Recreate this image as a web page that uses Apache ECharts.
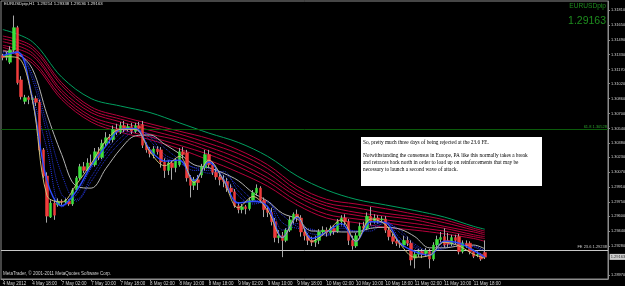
<!DOCTYPE html>
<html><head><meta charset="utf-8">
<script src="https://cdn.jsdelivr.net/npm/echarts@6/dist/echarts.min.js"></script>
<style>html,body{margin:0;padding:0;background:#000;}#c{width:625px;height:286px;}</style>
</head><body><div id="c"></div>
<script>
// ---- time axis ----
const barCount = 165;
const tickIdx = [0,8,16,24,32,40,48,56,64,72,80,88,96,104,112,120,128];
const tickLabels = ['4 May 2012','4 May 18:00','7 May 02:00','7 May 10:00','7 May 18:00','8 May 02:00','8 May 10:00','8 May 18:00','9 May 02:00','9 May 10:00','9 May 18:00','10 May 02:00','10 May 10:00','10 May 18:00','11 May 02:00','11 May 10:00','11 May 18:00'];
// ---- price axis ----
const yTicks = [1.28970,1.29280,1.29440,1.29600,1.29750,1.29910,1.30070,1.30230,1.30380,1.30540,1.30700,1.30860,1.31020,1.31170,1.31330,1.31490,1.31650,1.31810];
const fib618 = 1.30528, fe236 = 1.29238, bid = 1.29163;
// ---- candles (H1) ----
const opens = [1.3132,1.3130,1.3125,1.3138,1.3162,1.3106,1.3083,1.3087,1.3085,1.3086,
1.3082,1.3031,1.3003,1.2959,1.2974,1.2972,1.2976,1.2975,1.2976,1.2973,
1.2988,1.3001,1.3013,1.3009,1.3017,1.3015,1.3029,1.3023,1.3038,1.3044,
1.3042,1.3053,1.3050,1.3057,1.3053,1.3056,1.3051,1.3057,1.3058,1.3036,
1.3031,1.3026,1.3032,1.3031,1.3018,1.3009,1.3017,1.3012,1.3015,1.3029,
1.3028,1.3001,1.2993,1.2999,1.3004,1.3012,1.3026,1.3015,1.3007,1.3002,
1.2999,1.2997,1.2990,1.2986,1.2971,1.2967,1.2970,1.2968,1.2977,1.2985,
1.2990,1.2977,1.2967,1.2964,1.2954,1.2937,1.2939,1.2934,1.2945,1.2956,
1.2962,1.2958,1.2943,1.2939,1.2934,1.2932,1.2934,1.2943,1.2945,1.2942,
1.2947,1.2944,1.2954,1.2958,1.2954,1.2934,1.2928,1.2939,1.2949,1.2947,
1.2960,1.2954,1.2958,1.2956,1.2957,1.2945,1.2938,1.2933,1.2931,1.2929,
1.2934,1.2931,1.2915,1.2919,1.2922,1.2920,1.2922,1.2914,1.2929,1.2935,
1.2938,1.2934,1.2930,1.2937,1.2938,1.2922,1.2931,1.2931,1.2922,1.2918,
1.2919,1.2921];
const closes = [1.3130,1.3133,1.3138,1.3162,1.3103,1.3088,1.3087,1.3085,1.3086,1.3082,
1.3031,1.3003,1.2960,1.2974,1.2961,1.2976,1.2975,1.2977,1.2973,1.2988,
1.3001,1.3013,1.3009,1.3017,1.3015,1.3029,1.3023,1.3038,1.3044,1.3042,
1.3053,1.3050,1.3057,1.3053,1.3056,1.3051,1.3057,1.3054,1.3036,1.3031,
1.3027,1.3032,1.3029,1.3018,1.3009,1.3017,1.3012,1.3020,1.3029,1.3026,
1.3001,1.2993,1.2999,1.2996,1.3013,1.3026,1.3015,1.3007,1.3002,1.2999,
1.2997,1.2990,1.2986,1.2971,1.2967,1.2970,1.2968,1.2977,1.2985,1.2990,
1.2977,1.2967,1.2964,1.2954,1.2937,1.2939,1.2934,1.2945,1.2956,1.2962,
1.2958,1.2943,1.2939,1.2934,1.2932,1.2934,1.2943,1.2945,1.2942,1.2947,
1.2944,1.2954,1.2958,1.2954,1.2934,1.2928,1.2939,1.2949,1.2947,1.2960,
1.2954,1.2958,1.2956,1.2957,1.2945,1.2938,1.2933,1.2931,1.2930,1.2934,
1.2931,1.2913,1.2919,1.2922,1.2919,1.2923,1.2914,1.2929,1.2935,1.2937,
1.2929,1.2930,1.2937,1.2934,1.2922,1.2931,1.2929,1.2922,1.2917,1.2919,
1.2914,1.2916];
const lows = [1.3127,1.3127,1.3123,1.3136,1.3101,1.3085,1.3080,1.3080,1.3081,1.3078,
1.3029,1.3001,1.2953,1.2958,1.2956,1.2970,1.2972,1.2973,1.2971,1.2971,
1.2986,1.2999,1.3006,1.3007,1.3012,1.3013,1.3020,1.3021,1.3035,1.3038,
1.3039,1.3047,1.3048,1.3050,1.3051,1.3048,1.3049,1.3051,1.3033,1.3028,
1.3023,1.3022,1.3026,1.3012,1.3001,1.3004,1.2999,1.3007,1.3013,1.3022,
1.2997,1.2980,1.2988,1.2988,1.3001,1.3009,1.3012,1.3004,1.2999,1.2993,
1.2991,1.2986,1.2982,1.2969,1.2963,1.2963,1.2962,1.2966,1.2975,1.2982,
1.2974,1.2959,1.2959,1.2950,1.2932,1.2931,1.2916,1.2932,1.2943,1.2952,
1.2954,1.2938,1.2934,1.2929,1.2928,1.2927,1.2930,1.2939,1.2938,1.2939,
1.2940,1.2942,1.2950,1.2949,1.2929,1.2924,1.2926,1.2937,1.2943,1.2945,
1.2950,1.2952,1.2952,1.2953,1.2942,1.2934,1.2930,1.2928,1.2926,1.2927,
1.2928,1.2907,1.2904,1.2916,1.2915,1.2917,1.2904,1.2912,1.2926,1.2932,
1.2926,1.2927,1.2928,1.2930,1.2919,1.2920,1.2926,1.2919,1.2915,1.2916,
1.2912,1.2914];
const highs = [1.3134,1.3136,1.3142,1.3175,1.3164,1.3110,1.3090,1.3089,1.3088,1.3089,
1.3085,1.3033,1.3007,1.2977,1.2979,1.2979,1.2978,1.2979,1.2978,1.2990,
1.3003,1.3016,1.3018,1.3022,1.3026,1.3033,1.3034,1.3042,1.3050,1.3048,
1.3057,1.3059,1.3061,1.3062,1.3059,1.3060,1.3060,1.3061,1.3062,1.3039,
1.3034,1.3035,1.3035,1.3034,1.3022,1.3020,1.3020,1.3022,1.3033,1.3034,
1.3031,1.3004,1.3002,1.3004,1.3016,1.3031,1.3031,1.3018,1.3012,1.3006,
1.3004,1.3001,1.2994,1.2989,1.2975,1.2973,1.2972,1.2980,1.2988,1.2994,
1.2992,1.2980,1.2971,1.2969,1.2958,1.2945,1.2943,1.2947,1.2960,1.2964,
1.2967,1.2961,1.2947,1.2942,1.2938,1.2939,1.2946,1.2949,1.2948,1.2950,
1.2950,1.2957,1.2961,1.2962,1.2957,1.2939,1.2942,1.2953,1.2954,1.2964,
1.2970,1.2962,1.2961,1.2960,1.2960,1.2948,1.2941,1.2937,1.2934,1.2939,
1.2938,1.2934,1.2924,1.2925,1.2925,1.2926,1.2925,1.2932,1.2939,1.2943,
1.2947,1.2942,1.2940,1.2940,1.2941,1.2934,1.2934,1.2933,1.2924,1.2922,
1.2920,1.2934];
// ---- moving averages (read every 4 bars / every 8 bars) ----
const fastIdx = [0,4,8,12,16,20,24,28,32,36,40,44,48,52,56,60,64,68,72,76,80,84,88,92,96,100,104,108,112,116,120,124,128,131];
const yellowMA = [1.3131,1.3130,1.3085,1.2982,1.2975,1.2994,1.3016,1.3041,1.3053,1.3053,1.3029,1.3014,1.3024,1.2996,1.3020,1.2998,1.2969,1.2981,1.2966,1.2937,1.2960,1.2933,1.2943,1.2956,1.2933,1.2957,1.2951,1.2930,1.2916,1.2918,1.2932,1.2928,1.2919,1.2915];
const blue1 = [1.3132,1.3136,1.3086,1.2998,1.2971,1.2987,1.3014,1.3035,1.3053,1.3054,1.3031,1.3019,1.3020,1.2998,1.3018,1.2999,1.2974,1.2976,1.2970,1.2937,1.2959,1.2936,1.2943,1.2952,1.2933,1.2954,1.2953,1.2931,1.2922,1.2918,1.2933,1.2931,1.2923,1.2916];
const blue2 = [1.3133,1.3136,1.3090,1.3032,1.2970,1.2983,1.3011,1.3030,1.3049,1.3054,1.3041,1.3023,1.3017,1.3009,1.3009,1.3004,1.2982,1.2973,1.2976,1.2945,1.2952,1.2941,1.2940,1.2949,1.2943,1.2949,1.2954,1.2936,1.2926,1.2919,1.2929,1.2930,1.2924,1.2917];
const blue3 = [1.3135,1.3135,1.3107,1.3048,1.2983,1.2978,1.3002,1.3026,1.3044,1.3053,1.3045,1.3026,1.3019,1.3012,1.3006,1.3008,1.2987,1.2975,1.2975,1.2953,1.2947,1.2946,1.2939,1.2947,1.2944,1.2944,1.2954,1.2942,1.2928,1.2921,1.2927,1.2932,1.2927,1.2922];
const blue4 = [1.3136,1.3134,1.3112,1.3058,1.3005,1.2976,1.2997,1.3021,1.3039,1.3051,1.3047,1.3033,1.3021,1.3012,1.3011,1.3006,1.2992,1.2978,1.2974,1.2961,1.2949,1.2945,1.2941,1.2944,1.2944,1.2947,1.2952,1.2945,1.2930,1.2923,1.2925,1.2930,1.2928,1.2923];
const grayMA = [1.3137,1.3134,1.3118,1.3069,1.3026,1.2992,1.2990,1.3011,1.3032,1.3046,1.3047,1.3037,1.3027,1.3015,1.3012,1.3006,1.2998,1.2985,1.2976,1.2963,1.2957,1.2944,1.2944,1.2943,1.2943,1.2947,1.2948,1.2946,1.2938,1.2926,1.2926,1.2928,1.2929,1.2925];
const slowIdx = [0,8,16,24,32,40,48,56,64,72,80,88,96,104,112,120,128,131];
const red1 = [1.3153,1.3142,1.3103,1.3077,1.3067,1.3059,1.3051,1.3043,1.3031,1.3015,1.2992,1.2978,1.2973,1.2968,1.2962,1.2956,1.2947,1.2944];
const red2 = [1.3150,1.3139,1.3100,1.3074,1.3064,1.3056,1.3048,1.3038,1.3027,1.3011,1.2988,1.2974,1.2969,1.2963,1.2959,1.2953,1.2945,1.2942];
const red3 = [1.3147,1.3135,1.3095,1.3071,1.3061,1.3052,1.3044,1.3034,1.3022,1.3006,1.2984,1.2971,1.2964,1.2960,1.2956,1.2949,1.2943,1.2940];
const red4 = [1.3143,1.3132,1.3092,1.3067,1.3057,1.3048,1.3041,1.3030,1.3017,1.3001,1.2981,1.2967,1.2961,1.2956,1.2952,1.2947,1.2940,1.2938];
const red5 = [1.3141,1.3127,1.3088,1.3064,1.3053,1.3045,1.3036,1.3026,1.3013,1.2997,1.2976,1.2962,1.2957,1.2953,1.2948,1.2944,1.2938,1.2936];
const red6 = [1.3138,1.3124,1.3085,1.3061,1.3050,1.3042,1.3032,1.3020,1.3007,1.2992,1.2972,1.2958,1.2953,1.2948,1.2945,1.2941,1.2936,1.2933];
const greenMA = [1.3160,1.3147,1.3109,1.3086,1.3078,1.3071,1.3060,1.3049,1.3039,1.3024,1.3003,1.2988,1.2978,1.2972,1.2966,1.2959,1.2949,1.2946];
// ---- texts ----
const headerText = 'EURUSDpip,H1  1.29214 1.29338 1.29136 1.29163';
const noteLines = ['So, pretty much three days of being rejected at the 23.6 FE.',
 'Notwithstanding the consensus in Europe, PA like this normally takes a break',
 'and retraces back north in order to load up on reinforcements that may be',
 'necessary to launch a second wave of attack.'];

const categories = Array.from({length: barCount}, (_, i) => String(i));
const wickData = opens.map((o, i) => [o, closes[i], lows[i], highs[i]]);
const bodyData = opens.map((o, i) => [o, closes[i], Math.min(o, closes[i]), Math.max(o, closes[i])]);
const pair = (idx, arr) => idx.map((x, k) => [x, arr[k]]);
const maLine = (idx, arr, color, width, type, z) => ({
  type: 'line', data: pair(idx, arr), symbol: 'none', smooth: 0.35, silent: true, z: z,
  lineStyle: {color: color, width: width, type: type}
});
const F = 'Liberation Sans';
const chart = echarts.init(document.getElementById('c'), null, {renderer: 'canvas'});
const levelSeries = {
  type: 'line', data: [], silent: true, z: 7,
  markLine: {
    symbol: 'none', silent: true, animation: false, precision: 5,
    data: [
      {yAxis: fib618, lineStyle: {color: '#0b5a0b', width: 1, type: 'solid'},
       label: {formatter: '61.8 ' + fib618.toFixed(5), position: 'insideEndTop', color: '#2ea02e', fontSize: 4, fontFamily: F, distance: 1}},
      {yAxis: fe236, lineStyle: {color: '#c8c8c8', width: 1, type: 'solid'},
       label: {formatter: 'FE 23.6 ' + fe236.toFixed(5), position: 'insideEndTop', color: '#c8c8c8', fontSize: 4, fontFamily: F, distance: 1}}
    ]
  }
};
const bidSeries = {
  type: 'scatter', data: [[barCount - 1, bid]], symbolSize: 1, clip: false, silent: true, z: 40,
  itemStyle: {color: 'rgba(0,0,0,0)'},
  label: {show: true, position: 'right', distance: 3, formatter: bid.toFixed(5), color: '#000',
    backgroundColor: '#ffffff', fontSize: 4, fontFamily: F, padding: [1, 1]}
};
const series = [
  maLine(slowIdx, red1, '#b8003c', 1, 'solid', 2),
  maLine(slowIdx, red2, '#b8003c', 1, 'solid', 2),
  maLine(slowIdx, red3, '#b8003c', 1, 'solid', 2),
  maLine(slowIdx, red4, '#b8003c', 1, 'solid', 2),
  maLine(slowIdx, red5, '#b8003c', 1, 'solid', 2),
  maLine(slowIdx, red6, '#b8003c', 1, 'solid', 2),
  maLine(slowIdx, greenMA, '#00a060', 1, 'solid', 2),
  maLine(fastIdx, blue4, '#2434d8', 1, 'dotted', 3),
  maLine(fastIdx, blue3, '#2434d8', 1, 'dotted', 3),
  maLine(fastIdx, blue2, '#2838e0', 1, 'dotted', 3),
  maLine(fastIdx, grayMA, '#b4b4b4', 1, 'solid', 3),
  {
    type: 'candlestick', data: wickData, barWidth: 1, z: 4, silent: true,
    itemStyle: {color: '#a8a8a8', color0: '#a8a8a8', borderColor: '#a8a8a8', borderColor0: '#a8a8a8', borderWidth: 1}
  },
  {
    type: 'candlestick', data: bodyData, barWidth: 3, z: 5, silent: true,
    itemStyle: {color: '#3ce03c', color0: '#f03c3c', borderColor: '#3ce03c', borderColor0: '#f03c3c', borderWidth: 0.5}
  },
  maLine(fastIdx, blue1, '#2c4cff', 1.4, 'solid', 6),
  maLine(fastIdx, yellowMA, '#cdbd78', 1, 'solid', 6),
  levelSeries,
  bidSeries
];
chart.setOption({
  backgroundColor: '#000',
  animation: false,
  grid: {left: 1, right: 17, top: 1, bottom: 7, outerBoundsMode: 'none', containLabel: false, show: true, borderColor: '#8c8c8c', borderWidth: 1, backgroundColor: 'transparent'},
  xAxis: {
    type: 'category', data: categories, boundaryGap: true,
    axisLine: {show: true, lineStyle: {color: '#8c8c8c'}},
    axisTick: {show: true, alignWithLabel: true, length: 2, interval: (i) => tickIdx.indexOf(i) >= 0, lineStyle: {color: '#8c8c8c'}},
    axisLabel: {interval: (i) => tickIdx.indexOf(i) >= 0, formatter: (v) => tickLabels[tickIdx.indexOf(Number(v))] || '',
      align: 'left', color: '#d4d4d4', fontSize: 4.5, fontFamily: F, margin: 2},
    splitLine: {show: false}
  },
  yAxis: {
    type: 'value', position: 'right', min: 1.28926, max: 1.31906,
    axisLine: {show: true, lineStyle: {color: '#8c8c8c'}},
    axisTick: {show: true, length: 2, customValues: yTicks, lineStyle: {color: '#8c8c8c'}},
    axisLabel: {customValues: yTicks, formatter: (v) => v.toFixed(5), color: '#d4d4d4', fontSize: 3.9, fontFamily: F, margin: 3},
    splitLine: {show: false}
  },
  series: series,
  graphic: [
    {type: 'text', left: 4, top: 2, z: 20, style: {text: headerText, fill: '#e0e0e0', fontSize: 4.3, fontFamily: F}},
    {type: 'text', right: 19, top: 3, z: 20, style: {text: 'EURUSDpip', fill: '#1e8c1e', fontSize: 6.6, fontFamily: F}},
    {type: 'text', right: 19, top: 16, z: 20, style: {text: bid.toFixed(5), fill: '#1e8c1e', fontSize: 10.5, fontFamily: F}},
    {type: 'text', left: 3, top: 271, z: 20, style: {text: 'MetaTrader, \u00a9 2001-2011 MetaQuotes Software Corp.', fill: '#d0d0d0', fontSize: 4.5, fontFamily: F}},
    {type: 'rect', z: 30, shape: {x: 361, y: 137, width: 181, height: 49}, style: {fill: '#ffffff'}},
    {type: 'text', z: 31, x: 363, y: 140.3, style: {text: noteLines[0], fill: '#000', fontSize: 5.3, fontFamily: 'Liberation Serif'}},
    {type: 'text', z: 31, x: 363, y: 152.8, style: {text: noteLines[1], fill: '#000', fontSize: 5.3, fontFamily: 'Liberation Serif'}},
    {type: 'text', z: 31, x: 363, y: 159.8, style: {text: noteLines[2], fill: '#000', fontSize: 5.3, fontFamily: 'Liberation Serif'}},
    {type: 'text', z: 31, x: 363, y: 166.8, style: {text: noteLines[3], fill: '#000', fontSize: 5.3, fontFamily: 'Liberation Serif'}}
  ]
});
</script>
</body></html>
